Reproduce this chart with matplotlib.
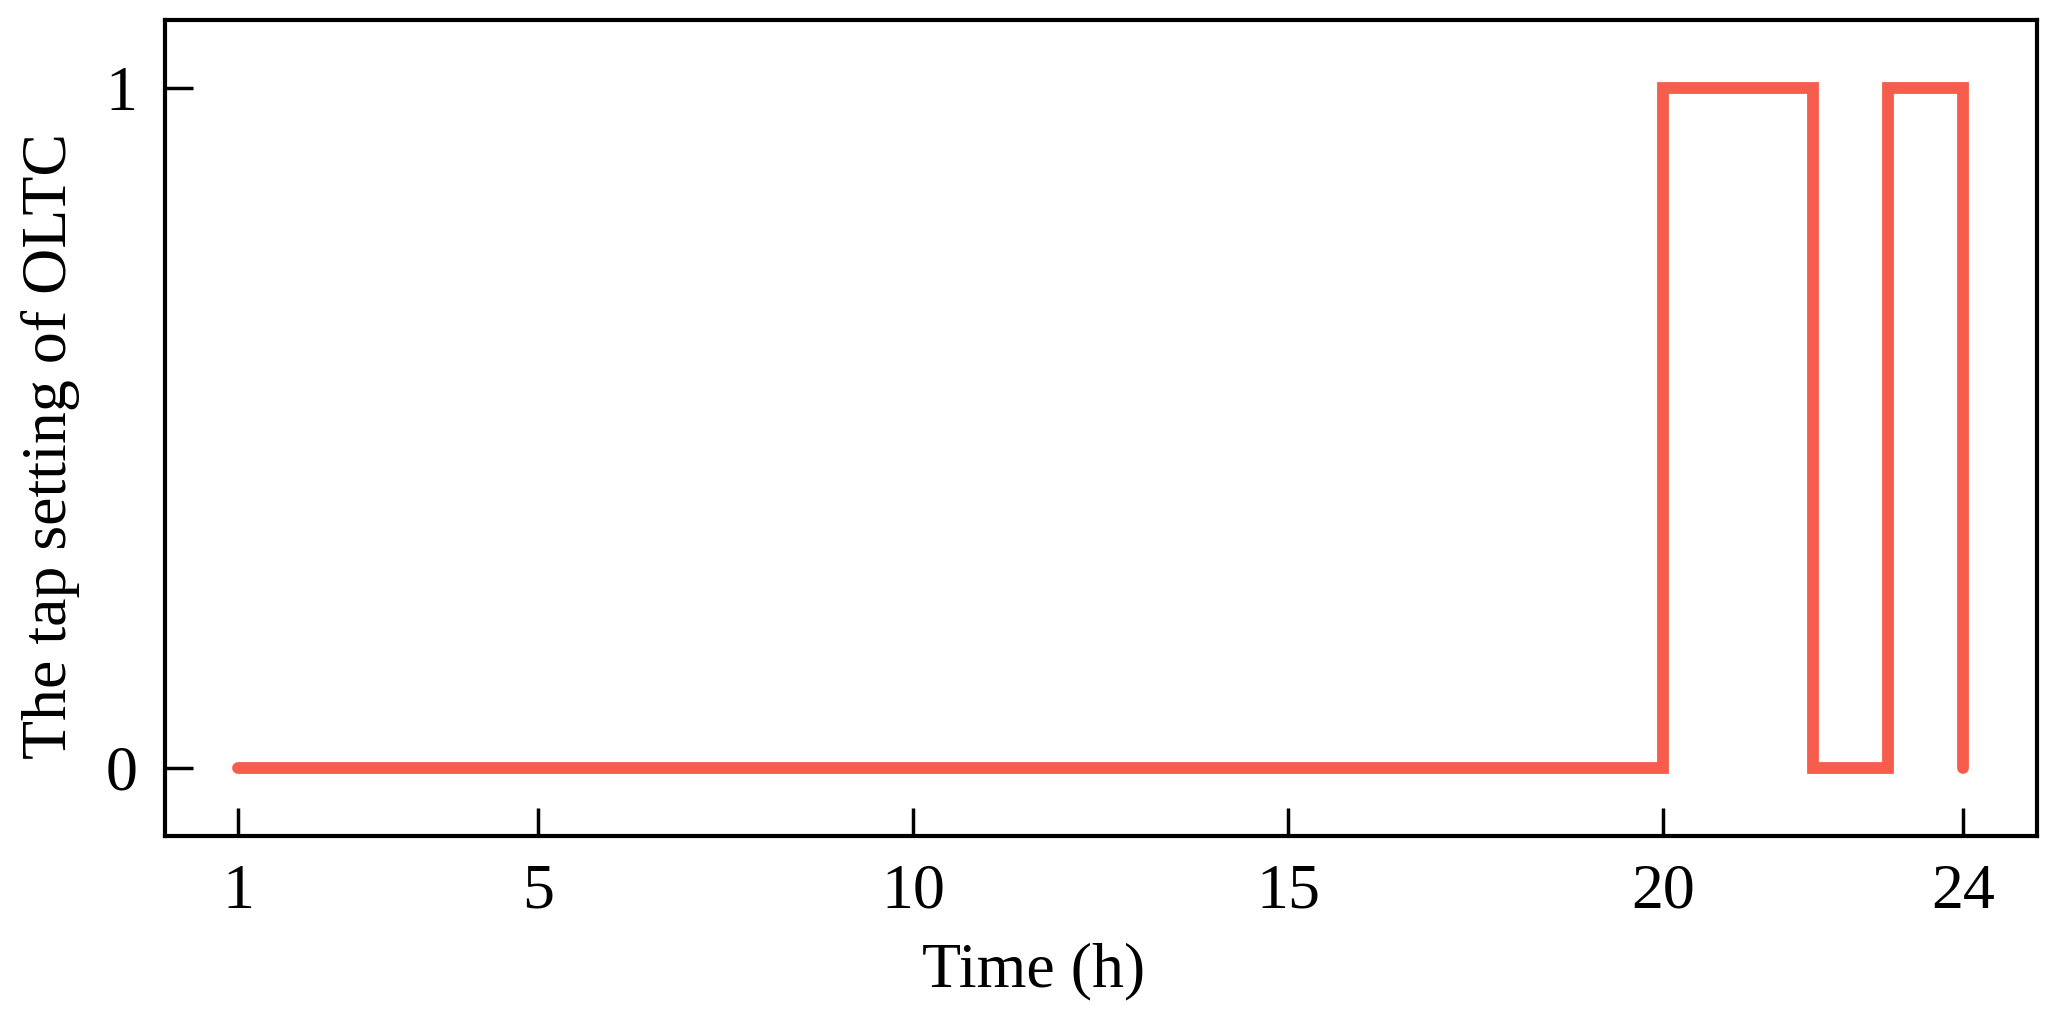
import numpy as np
import matplotlib
matplotlib.use('Agg')
import matplotlib.pyplot as plt

hours = list(range(1, 25))
tap = [0]*19 + [1, 1, 0, 1, 0]
xticks = [1, 5, 10, 15, 20, 24]
yticks = [0, 1]

plt.rcParams['font.family'] = ['Liberation Serif', 'DejaVu Serif']

fig, ax = plt.subplots(figsize=(20.59, 10.11), dpi=100)
fig.subplots_adjust(left=0.0801, right=0.9893, top=0.9802, bottom=0.1731)

ax.step(hours, tap, where='post', color='#F65D4C', lw=8.5, solid_capstyle='round', solid_joinstyle='miter')

ax.set_xlim(0.02, 24.98)
ax.set_ylim(-0.1, 1.1)
ax.set_xticks(xticks)
ax.set_yticks(yticks)
ax.tick_params(direction='in', length=20, width=2.5, labelsize=46, pad=20)
for s in ax.spines.values():
    s.set_linewidth(3)
ax.set_xlabel('Time (h)', fontsize=46, labelpad=8)
ax.set_ylabel('The tap setting of OLTC', fontsize=46, labelpad=18)
ax.xaxis.set_label_coords(0.464, -0.13)
ax.yaxis.label.set_y(0.478)

fig.savefig('out.png', dpi=100)
